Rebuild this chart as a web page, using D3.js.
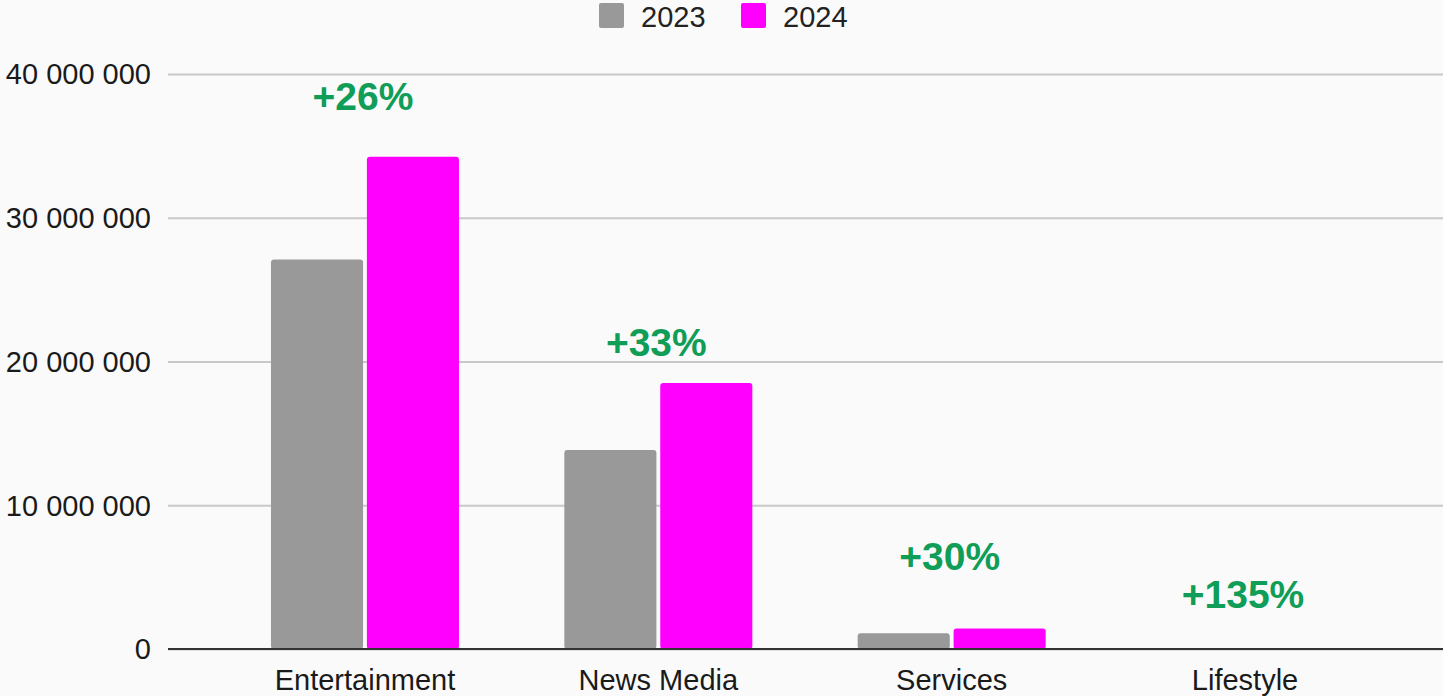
<!DOCTYPE html>
<html>
<head>
<meta charset="utf-8">
<script src="https://cdn.jsdelivr.net/npm/d3@7"></script>
<style>
  html, body { margin: 0; padding: 0; background: #fafafa; overflow: hidden; }
  svg { display: block; font-family: "Liberation Sans", Arial, sans-serif; }
</style>
</head>
<body>
<svg width="1443" height="696"></svg>
<script>
// data
const categories = ["Entertainment", "News Media", "Services", "Lifestyle"];
const series = ["2023", "2024"];
const values2023 = [27100000, 13850000, 1100000, 17000];
const values2024 = [34250000, 18500000, 1430000, 40000];
const growthLabels = ["+26%", "+33%", "+30%", "+135%"];
const labelAt = [37500000, 20400000, 5500000, 2850000]; // where the growth labels sit, in value units
const yTicks = [0, 10000000, 20000000, 30000000, 40000000];
const colors = ["#999999", "#ff00ff"];

const svg = d3.select("svg");

const plotLeft = 168, plotRight = 1443;
const y = d3.scaleLinear().domain([0, 40000000]).range([649, 74]);
const x = d3.scaleBand().domain(categories).range([218.3, 1391.7]);
const x1 = d3.scaleBand().domain(series).range([0, 188]).paddingInner(0.04);

const fmt = v => d3.format(",")(v).replace(/,/g, " ");

// grid + y labels
const yAxis = d3.axisLeft(y).tickValues(yTicks).tickSize(plotRight - plotLeft).tickFormat(fmt);
const gy = svg.append("g").attr("transform", `translate(${plotRight},0)`)
gy.call(yAxis);
gy.select(".domain").remove();
gy.selectAll(".tick line").attr("stroke", "#c8c8c8").attr("stroke-width", 2);
gy.selectAll(".tick text")
  .attr("x", plotLeft - plotRight - 17)
  .attr("dy", "0.34em")
  .attr("fill", "#1a1a1a")
  .style("font-size", "29px");

// bars
const rows = categories.map((c, i) => ({ cat: c, vals: [values2023[i], values2024[i]] }));
const groups = svg.append("g").selectAll("g").data(rows).join("g")
  .attr("transform", d => `translate(${x(d.cat) + x.bandwidth() / 2 - 94},0)`);

groups.selectAll("rect")
  .data(d => d.vals.map((v, j) => ({ s: series[j], v: v, j: j })))
  .join("rect")
  .attr("x", d => x1(d.s))
  .attr("width", x1.bandwidth())
  .attr("y", d => y(d.v))
  .attr("height", d => Math.max(0, y(0) - y(d.v)))
  .attr("rx", 3)
  .attr("fill", d => colors[d.j]);

// baseline
svg.append("line")
  .attr("x1", plotLeft).attr("x2", plotRight)
  .attr("y1", y(0)).attr("y2", y(0))
  .attr("stroke", "#333").attr("stroke-width", 2);

// category labels
const gx = svg.append("g").attr("transform", `translate(0,${y(0)})`)
  .call(d3.axisBottom(x).tickSize(0).tickPadding(0));
gx.select(".domain").remove();
gx.selectAll(".tick text")
  .attr("dy", 0).attr("y", 41)
  .attr("fill", "#1a1a1a")
  .style("font-size", "29px");

// growth labels
svg.append("g").selectAll("text").data(categories).join("text")
  .attr("x", (d, i) => x(d) + x.bandwidth() / 2 - 2)
  .attr("y", (d, i) => y(labelAt[i]))
  .attr("text-anchor", "middle")
  .attr("fill", "#0f9d58")
  .style("font-size", "39px")
  .style("font-weight", "bold")
  .text((d, i) => growthLabels[i]);

// legend
const legend = svg.append("g").selectAll("g").data(series).join("g")
  .attr("transform", (d, i) => `translate(${599 + i * 142},3)`);
legend.append("rect")
  .attr("width", 25).attr("height", 25).attr("rx", 2)
  .attr("fill", (d, i) => colors[i]);
legend.append("text")
  .attr("x", 42).attr("y", 24)
  .attr("fill", "#222")
  .style("font-size", "29px")
  .text(d => d);
</script>
</body>
</html>
